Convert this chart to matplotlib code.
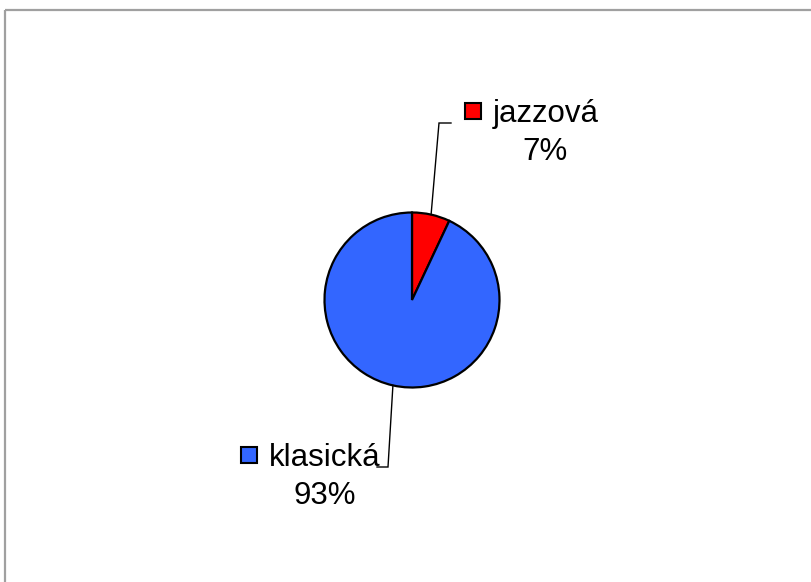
import numpy as np
import matplotlib
matplotlib.use("Agg")
import matplotlib.pyplot as plt
from matplotlib.patches import Rectangle
from matplotlib.lines import Line2D

categories = ["jazzová", "klasická"]
shares = [7, 93]
colors = ["#FF0000", "#3366FF"]
pct_labels = ["7%", "93%"]

W, H = 811, 582
fig = plt.figure(figsize=(W / 100, H / 100), dpi=100)
ax = fig.add_axes([0, 0, 1, 1])
ax.set_xlim(0, W)
ax.set_ylim(0, H)
ax.set_aspect("equal")
ax.axis("off")

plt.rcParams["font.family"] = ["Liberation Sans", "DejaVu Sans"]

# chart-area frame (top and left edges visible)
fig.add_artist(Line2D([5 / W, 5 / W], [0, 1 - 10 / H], transform=fig.transFigure,
                      color="#a0a0a0", lw=1.6, solid_capstyle="butt"))
fig.add_artist(Line2D([5 / W, 1], [1 - 10 / H, 1 - 10 / H], transform=fig.transFigure,
                      color="#a0a0a0", lw=1.6, solid_capstyle="butt"))

cx, cy, r = 412, H - 300, 87.5
wedges, _ = ax.pie(shares, colors=colors, startangle=90, counterclock=False,
                   center=(cx, cy), radius=r,
                   wedgeprops=dict(edgecolor="black", linewidth=1.6))
ax.set_xlim(0, W)
ax.set_ylim(0, H)

fs = 22.5
# label layout: (text centre x, first baseline y, key centre x, leader elbow, leader end x)
layout = [
    dict(tx=545.5, by=122, kx=473, ky=111, elbow=(439, 123), end=451),
    dict(tx=325, by=466, kx=249, ky=455, elbow=(388, 467), end=377),
]

for w, cat, pct, col, lay in zip(wedges, categories, pct_labels, colors, layout):
    mid = np.deg2rad((w.theta1 + w.theta2) / 2)
    sx, sy = cx + r * np.cos(mid), cy + r * np.sin(mid)
    ex, ey = lay["elbow"][0], H - lay["elbow"][1]
    ax.plot([sx, ex, lay["end"]], [sy, ey, ey], color="black", lw=1.0,
            solid_joinstyle="miter")
    ax.text(lay["tx"], H - lay["by"], cat, fontsize=fs, ha="center",
            va="baseline", color="black")
    ax.text(lay["tx"], H - lay["by"] - 37.5, pct, fontsize=fs, ha="center",
            va="baseline", color="black")
    k = 15.5
    ax.add_patch(Rectangle((lay["kx"] - k / 2, H - lay["ky"] - k / 2), k, k,
                           facecolor=col, edgecolor="black", lw=1.5))

fig.savefig("out.png", dpi=100, facecolor="white")
